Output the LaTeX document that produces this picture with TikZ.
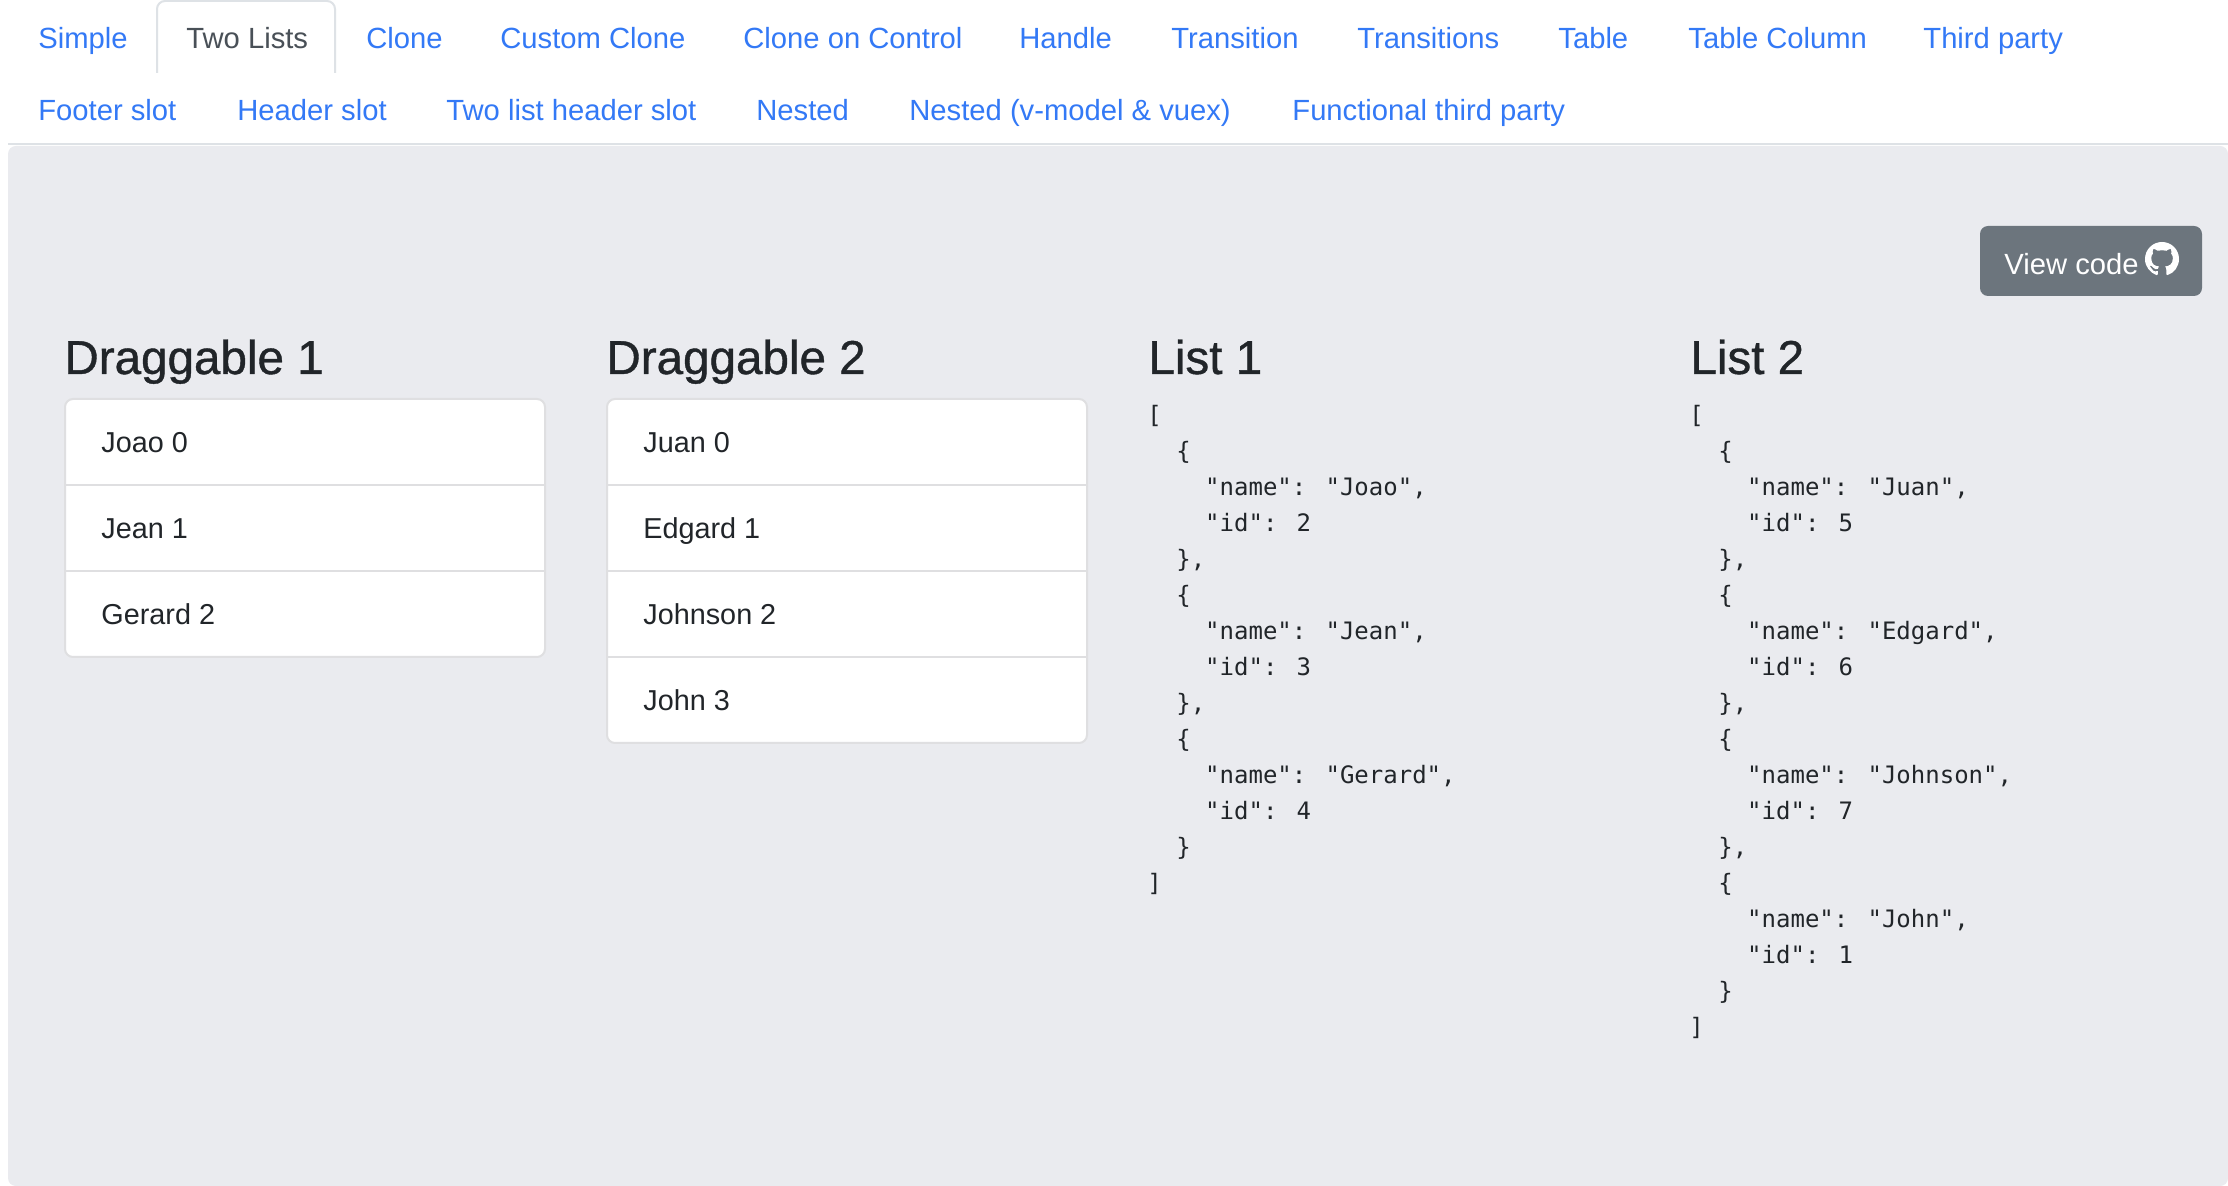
\documentclass[tikz,border=0pt]{standalone}
\usepackage{fontspec}
\usetikzlibrary{svg.path}
\setmainfont{Liberation Sans}
\newfontfamily\codefont{DejaVu Sans Mono}
\newfontfamily\headfont[FakeBold=0.8]{Liberation Sans}
\definecolor{linkblue}{HTML}{3379F6}
\definecolor{tabgray}{HTML}{495057}
\definecolor{panelgray}{HTML}{EAEBEF}
\definecolor{tabline}{HTML}{DEE2E6}
\definecolor{cardline}{HTML}{DFDFE1}
\definecolor{buttongray}{HTML}{6C757D}
\definecolor{inktext}{HTML}{212529}
\tikzset{
  navlink/.style={anchor=base west,inner sep=0pt,text=linkblue,font=\fontsize{14.6}{17}\selectfont},
  heading/.style={anchor=base west,inner sep=0pt,text=inktext,font=\headfont\fontsize{23.8}{28}\selectfont},
  itemtext/.style={anchor=base west,inner sep=0pt,text=inktext,font=\fontsize{14.4}{17}\selectfont},
  codeblock/.style={anchor=north west,inner sep=0pt,align=left,text=inktext,font=\codefont\fontsize{12}{18}\selectfont},
  cardbox/.style={draw=cardline,fill=white,line width=1pt,rounded corners=4pt},
  cardrule/.style={draw=cardline,line width=1pt}
}
\begin{document}
\begin{tikzpicture}[x=0.5pt,y=-0.5pt]
\useasboundingbox (0,0) rectangle (2228,1186);
\fill[white] (0,0) rectangle (2228,1186);

%%%%%%%%%%%%%%%%%%%%%%%%%%%%%%%%%%%%%%%%%%%%%%%%%%
% Tabs
%%%%%%%%%%%%%%%%%%%%%%%%%%%%%%%%%%%%%%%%%%%%%%%%%%

% Active tab
\draw[tabline,line width=1pt,rounded corners=4pt]
(157,73)--(157,1)--(335,1)--(335,73);

% First row
\node[navlink] (simple) at (38,49) {Simple};
\node[navlink,text=tabgray] (twolists) at (186,49) {Two Lists};
\node[navlink] (clone) at (366,49) {Clone};
\node[navlink] (customclone) at (500,49) {Custom Clone};
\node[navlink] (clonecontrol) at (743,49) {Clone on Control};
\node[navlink] (handle) at (1019,49) {Handle};
\node[navlink] (transition) at (1171,49) {Transition};
\node[navlink] (transitions) at (1357,49) {Transitions};
\node[navlink] (table) at (1558,49) {Table};
\node[navlink] (tablecolumn) at (1688,49) {Table Column};
\node[navlink] (thirdparty) at (1923,49) {Third party};

% Second row
\node[navlink] (footerslot) at (38,121) {Footer slot};
\node[navlink] (headerslot) at (237,121) {Header slot};
\node[navlink] (twolistheader) at (446,121) {Two list header slot};
\node[navlink] (nested) at (756,121) {Nested};
\node[navlink] (nestedvuex) at (909,121) {Nested (v-model \& vuex)};
\node[navlink] (functional) at (1292,121) {Functional third party};

% Panel
\draw[tabline,line width=1pt] (8,144)--(2228,144);
\fill[panelgray,rounded corners=4pt] (8,146) rectangle (2228,1186);

%%%%%%%%%%%%%%%%%%%%%%%%%%%%%%%%%%%%%%%%%%%%%%%%%%
% Button
%%%%%%%%%%%%%%%%%%%%%%%%%%%%%%%%%%%%%%%%%%%%%%%%%%

\fill[buttongray,rounded corners=4pt] (1980,226) rectangle (2202,296);
\node[navlink,text=white] (viewcode) at (2004,274.5) {View code};

% Github mark
\begin{scope}[shift={(2145,242)},xscale=1.0625,yscale=-1.0625]
\fill[white] (0,0) svg {M8 0C3.58 0 0 3.58 0 8c0 3.54 2.29 6.53 5.47 7.59 .4 .07 .55 -.17 .55 -.38 0 -.19 -.01 -.82 -.01 -1.49 -2.01 .37 -2.53 -.49 -2.69 -.94 -.09 -.23 -.48 -.94 -.82 -1.13 -.28 -.15 -.68 -.52 -.01 -.53 .63 -.01 1.08 .58 1.23 .82 .72 1.21 1.87 .87 2.33 .66 .07 -.52 .28 -.87 .51 -1.07 -1.78 -.2 -3.64 -.89 -3.64 -3.95 0 -.87 .31 -1.59 .82 -2.15 -.08 -.2 -.36 -1.02 .08 -2.12 0 0 .67 -.21 2.2 .82 .64 -.18 1.32 -.27 2 -.27 .68 0 1.36 .09 2 .27 1.53 -1.04 2.2 -.82 2.2 -.82 .44 1.1 .16 1.92 .08 2.12 .51 .56 .82 1.27 .82 2.15 0 3.07 -1.87 3.75 -3.65 3.95 .29 .25 .54 .73 .54 1.48 0 1.07 -.01 1.93 -.01 2.2 0 .21 .15 .46 .55 .38 C13.71 14.53 16 11.53 16 8c0 -4.42 -3.58 -8 -8 -8z};
\end{scope}

%%%%%%%%%%%%%%%%%%%%%%%%%%%%%%%%%%%%%%%%%%%%%%%%%%
% Draggable 1
%%%%%%%%%%%%%%%%%%%%%%%%%%%%%%%%%%%%%%%%%%%%%%%%%%

\node[heading] (dragone) at (64,374) {Draggable 1};
\draw[cardbox] (65,399) rectangle (545,657);
\draw[cardrule] (65,485)--(545,485);
\draw[cardrule] (65,571)--(545,571);
\node[itemtext] (joao) at (101,453) {Joao 0};
\node[itemtext] (jean) at (101,539) {Jean 1};
\node[itemtext] (gerard) at (101,625) {Gerard 2};

%%%%%%%%%%%%%%%%%%%%%%%%%%%%%%%%%%%%%%%%%%%%%%%%%%
% Draggable 2
%%%%%%%%%%%%%%%%%%%%%%%%%%%%%%%%%%%%%%%%%%%%%%%%%%

\node[heading] (dragtwo) at (606,374) {Draggable 2};
\draw[cardbox] (607,399) rectangle (1087,743);
\draw[cardrule] (607,485)--(1087,485);
\draw[cardrule] (607,571)--(1087,571);
\draw[cardrule] (607,657)--(1087,657);
\node[itemtext] (juan) at (643,453) {Juan 0};
\node[itemtext] (edgard) at (643,539) {Edgard 1};
\node[itemtext] (johnson) at (643,625) {Johnson 2};
\node[itemtext] (john) at (643,711) {John 3};

%%%%%%%%%%%%%%%%%%%%%%%%%%%%%%%%%%%%%%%%%%%%%%%%%%
% List 1
%%%%%%%%%%%%%%%%%%%%%%%%%%%%%%%%%%%%%%%%%%%%%%%%%%

\node[heading] (listone) at (1148,374) {List 1};
\node[codeblock] (codeone) at (1147,405) {[\\
\ \ \{\\
\ \ \ \ "name": "Joao",\\
\ \ \ \ "id": 2\\
\ \ \},\\
\ \ \{\\
\ \ \ \ "name": "Jean",\\
\ \ \ \ "id": 3\\
\ \ \},\\
\ \ \{\\
\ \ \ \ "name": "Gerard",\\
\ \ \ \ "id": 4\\
\ \ \}\\
]};

%%%%%%%%%%%%%%%%%%%%%%%%%%%%%%%%%%%%%%%%%%%%%%%%%%
% List 2
%%%%%%%%%%%%%%%%%%%%%%%%%%%%%%%%%%%%%%%%%%%%%%%%%%

\node[heading] (listtwo) at (1690,374) {List 2};
\node[codeblock] (codetwo) at (1689,405) {[\\
\ \ \{\\
\ \ \ \ "name": "Juan",\\
\ \ \ \ "id": 5\\
\ \ \},\\
\ \ \{\\
\ \ \ \ "name": "Edgard",\\
\ \ \ \ "id": 6\\
\ \ \},\\
\ \ \{\\
\ \ \ \ "name": "Johnson",\\
\ \ \ \ "id": 7\\
\ \ \},\\
\ \ \{\\
\ \ \ \ "name": "John",\\
\ \ \ \ "id": 1\\
\ \ \}\\
]};

\end{tikzpicture}
\end{document}
